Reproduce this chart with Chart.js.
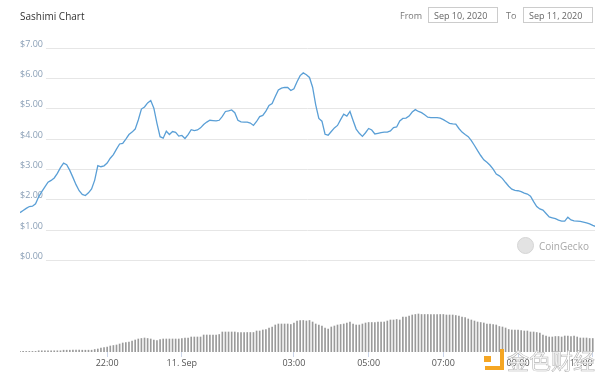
<!DOCTYPE html>
<html>
<head>
<meta charset="utf-8">
<script src="https://cdn.jsdelivr.net/npm/chart.js@4"></script>
<style>
  html, body { margin: 0; padding: 0; background: #fff; }
  body { width: 600px; height: 379px; position: relative; overflow: hidden; font-family: "Open Sans", sans-serif; }
  #wrap { position: absolute; left: 0; top: 0; width: 600px; height: 379px; }
  .title { position: absolute; left: 20px; top: 9px; font-size: 10px; color: #333; }
  .lbl { position: absolute; top: 9px; font-size: 9px; color: #777; }
  .box { position: absolute; top: 7px; height: 16px; line-height: 16px; border: 1px solid #ccc; font-size: 9px; color: #666; box-sizing: border-box; padding-left: 5px; }
  .gecko { position: absolute; left: 517px; top: 237px; width: 17px; height: 17px; border-radius: 50%; background: #e3e3e3; border: 1px solid #d4d4d4; box-sizing: border-box; }
  .gecko-txt { position: absolute; left: 539px; top: 239px; font-size: 10px; color: #a8a8a8; }
  .jinse-logo { position: absolute; left: 485px; top: 349px; width: 19px; height: 21px; border: 4px solid #f5a623; border-left: none; border-top: none; box-sizing: border-box; }
  .jinse-dot { position: absolute; left: 484px; top: 356px; width: 7px; height: 6px; background: #f5a623; }
  .jinse-txt { position: absolute; left: 507px; top: 343px; font-size: 22px; font-family: "Noto Sans CJK SC", sans-serif; color: rgba(255,255,255,0.9); -webkit-text-stroke: 0.6px #b5b5b5; }
</style>
</head>
<body>
<div id="wrap"><canvas id="sashimiChart" width="600" height="379"></canvas></div>
<div class="title">Sashimi Chart</div>
<div class="lbl" style="left:400px">From</div>
<div class="box" style="left:428px;width:70px">Sep 10, 2020</div>
<div class="lbl" style="left:506px">To</div>
<div class="box" style="left:523px;width:70px">Sep 11, 2020</div>
<div class="gecko"></div>
<div class="gecko-txt">CoinGecko</div>
<div class="jinse-logo"></div>
<div class="jinse-dot"></div>
<div class="jinse-txt">金色财经</div>
<script>
// time axis: hours relative to 11 Sep 00:00, one sample every 5 minutes from 19:20
const startHour = -4 - 20 / 60;
const stepMinutes = 5;

// price in USD
const priceValues = [
  1.58, 1.65, 1.72, 1.78, 1.79, 1.87, 2.10, 2.27, 2.43, 2.58,
  2.64, 2.72, 2.87, 3.06, 3.21, 3.16, 2.97, 2.74, 2.50, 2.30,
  2.18, 2.14, 2.23, 2.36, 2.65, 3.13, 3.09, 3.12, 3.21, 3.37,
  3.49, 3.67, 3.84, 3.86, 4.00, 4.15, 4.23, 4.33, 4.63, 4.99,
  5.06, 5.19, 5.27, 5.02, 4.52, 4.08, 4.03, 4.26, 4.15, 4.25,
  4.22, 4.10, 4.12, 4.02, 4.15, 4.31, 4.28, 4.30, 4.37, 4.48,
  4.56, 4.62, 4.61, 4.60, 4.62, 4.75, 4.91, 4.93, 4.96, 4.87,
  4.62, 4.57, 4.56, 4.56, 4.53, 4.45, 4.58, 4.74, 4.78, 4.92,
  5.11, 5.17, 5.40, 5.62, 5.68, 5.70, 5.70, 5.60, 5.66, 5.89,
  6.09, 6.18, 6.12, 6.03, 5.71, 5.13, 4.68, 4.59, 4.16, 4.13,
  4.25, 4.37, 4.45, 4.64, 4.82, 4.76, 4.91, 4.61, 4.33, 4.19,
  4.09, 4.21, 4.35, 4.30, 4.17, 4.19, 4.21, 4.23, 4.23, 4.27,
  4.38, 4.40, 4.60, 4.68, 4.69, 4.76, 4.89, 4.97, 4.91, 4.87,
  4.80, 4.72, 4.71, 4.71, 4.71, 4.69, 4.64, 4.58, 4.52, 4.50,
  4.49, 4.35, 4.23, 4.15, 4.08, 3.95, 3.79, 3.62, 3.46, 3.32,
  3.24, 3.14, 3.01, 2.85, 2.79, 2.70, 2.57, 2.45, 2.35, 2.31,
  2.30, 2.27, 2.22, 2.19, 2.12, 1.94, 1.78, 1.70, 1.66, 1.55,
  1.44, 1.41, 1.38, 1.33, 1.30, 1.30, 1.43, 1.34, 1.31, 1.30,
  1.29, 1.27, 1.24, 1.21, 1.16, 1.12, 1.09, 1.07, 1.04
];

// trading volume (relative units)
const volumeValues = [
  0.6, 0.6, 0.6, 0.6, 0.6, 0.6, 1.2, 1.2, 1.2, 1.2,
  1.2, 1.2, 1.2, 1.2, 1.8, 1.8, 1.8, 1.8, 1.8, 1.8,
  1.8, 1.8, 1.8, 1.8, 2.5, 3, 4, 4.5, 5, 6,
  6.5, 7, 8, 9, 9.5, 10, 11, 12, 13, 13.5,
  14, 13.5, 13, 12, 11.5, 12.5, 13, 13, 13, 13,
  13, 13, 13.5, 14, 14, 15, 15, 15, 15, 17,
  17, 17, 17, 17, 17.5, 20, 20, 20, 20, 20,
  19.5, 19.5, 19.5, 19.5, 19.5, 19.5, 21, 21, 22, 22.5,
  24, 25, 27, 28, 28, 28, 28, 27.5, 29, 31,
  31.5, 31.5, 31, 31.5, 30, 28, 27, 26, 24, 23,
  25, 26, 27, 27.5, 28, 29, 30, 28, 27, 27,
  28, 29, 29.5, 29.5, 29.5, 30, 30, 30, 31, 32,
  32, 32.5, 32, 35, 35, 36, 37, 37.5, 38, 37.5,
  37.5, 37.5, 37.5, 37.5, 37.5, 37.5, 37.5, 37, 37, 37,
  36.5, 36, 35, 34.5, 33, 32, 31, 30, 29.5, 29,
  28, 28, 27.5, 27, 25.5, 25, 24, 22.5, 22, 22,
  22, 21.5, 21, 21, 20, 20, 19.5, 19, 17, 16,
  15, 15, 15.5, 15.5, 15, 16, 16, 15.5, 16, 15,
  14, 14, 14, 13.5, 13.5, 13, 13, 13, 13
];

const xTickHours = [-2, 0, 3, 5, 7, 9, 11];
const xTickLabels = ["22:00", "11. Sep", "03:00", "05:00", "07:00", "09:00", "11:00"];
const priceTicks = [0, 1, 2, 3, 4, 5, 6, 7];

const hourAt = i => startHour + i * stepMinutes / 60;
const priceData = priceValues.map((v, i) => ({ x: hourAt(i), y: v }));
const volumeData = volumeValues.map((v, i) => ({ x: hourAt(i), y: v }));

const xMin = startHour;
const xMax = 11.06;

const ctx = document.getElementById("sashimiChart").getContext("2d");

new Chart(ctx, {
  type: "bar",
  data: {
    datasets: [{
      type: "line",
      label: "Price",
      data: priceData,
      yAxisID: "y",
      borderColor: "#5a9fd6",
      borderWidth: 1.3,
      pointRadius: 0,
      tension: 0,
      fill: false
    }, {
      type: "bar",
      label: "Volume",
      data: volumeData,
      yAxisID: "vol",
      backgroundColor: "#9a9a9a",
      barThickness: 1
    }]
  },
  options: {
    responsive: false,
    animation: false,
    events: [],
    layout: { padding: { top: 48, left: 20, right: 5, bottom: 0 } },
    plugins: { legend: { display: false }, tooltip: { enabled: false } },
    scales: {
      x: {
        type: "linear",
        offset: false,
        min: xMin,
        max: xMax,
        afterBuildTicks: s => {
          s.ticks = [{ value: xMin }].concat(xTickHours.map(v => ({ value: v })));
        },
        afterFit: s => { s.height = 27; },
        border: { display: false },
        grid: {
          offset: false,
          drawOnChartArea: false,
          tickLength: 5,
          color: ctx => ctx.tick && ctx.tick.value === xMin ? "rgba(0,0,0,0)" : "#ccd6eb"
        },
        ticks: {
          align: "inner",
          padding: 1,
          color: "#555",
          font: { family: "Open Sans", size: 9 },
          maxRotation: 0,
          autoSkip: false,
          callback: v => {
            const k = xTickHours.indexOf(v);
            return k >= 0 ? xTickLabels[k] : "";
          }
        }
      },
      y: {
        position: "left",
        min: -3.01,
        max: 7,
        afterBuildTicks: s => { s.ticks = priceTicks.map(v => ({ value: v })); },
        afterFit: s => { s.width = 0; },
        border: { display: false },
        grid: { color: "#e6e6e6", drawTicks: false },
        ticks: {
          mirror: true,
          padding: 0,
          labelOffset: -4,
          color: "#8a9fb6",
          font: { family: "Open Sans", size: 9 },
          showLabelBackdrop: true,
          backdropColor: "#fff",
          backdropPadding: { top: 0, bottom: 0, left: 0, right: 3 },
          callback: v => "$" + v.toFixed(2)
        }
      },
      vol: {
        display: false,
        min: 0,
        max: 304
      }
    }
  }
});
</script>
</body>
</html>
